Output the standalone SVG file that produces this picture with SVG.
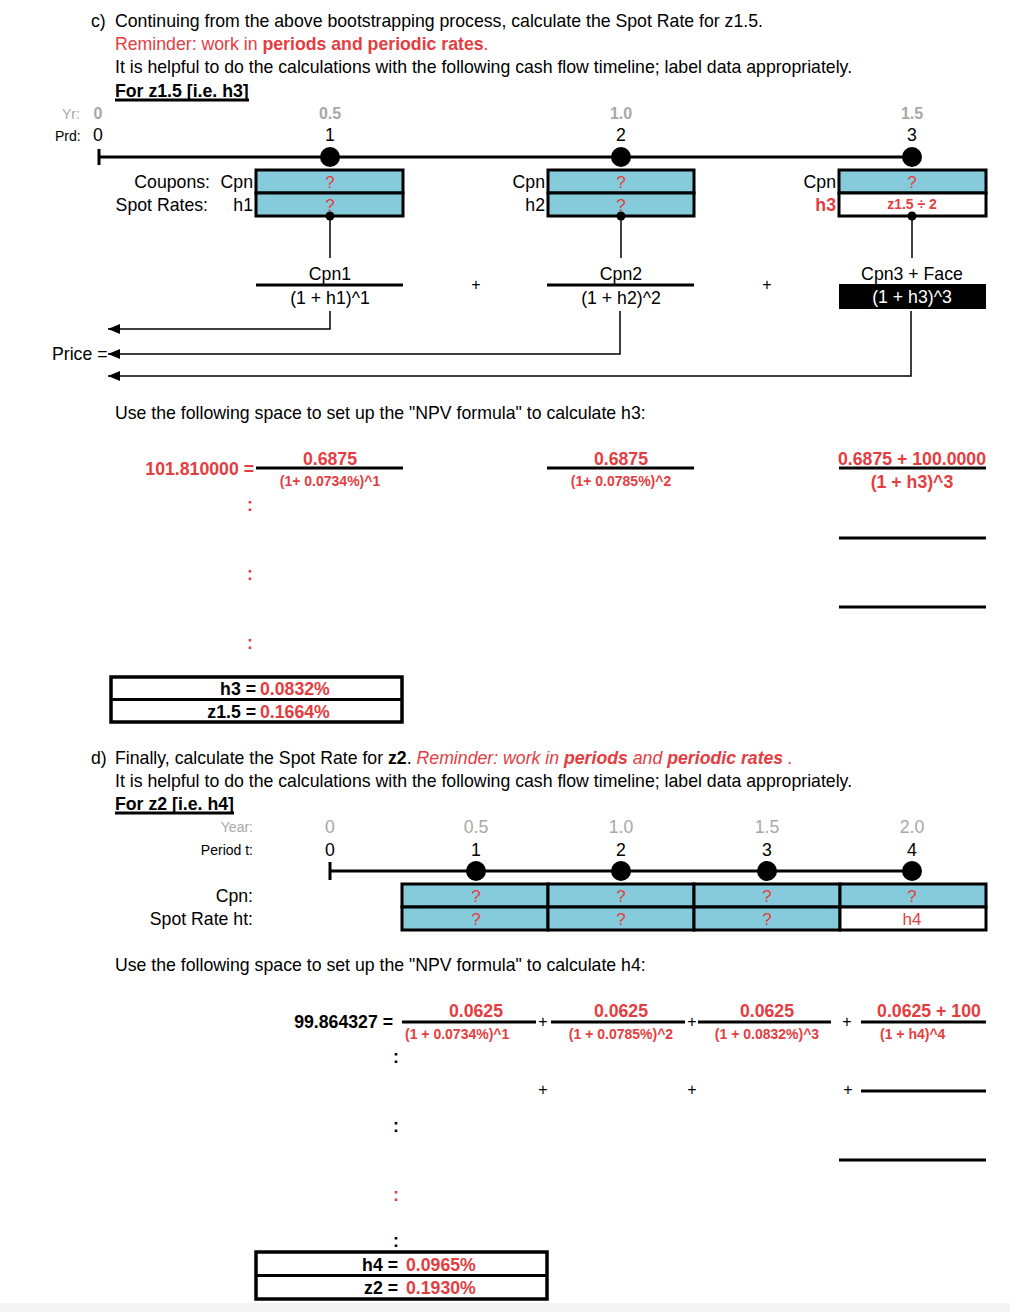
<svg xmlns="http://www.w3.org/2000/svg" width="1010" height="1312" viewBox="0 0 1010 1312">
<style>
text{font-family:"Liberation Sans",Arial,sans-serif;fill:#000}
.t{font-size:17.7px}
.r{fill:#E53D3F}
.b{font-weight:bold}
.g{fill:#A8A8A8}
.m{text-anchor:middle}
.e{text-anchor:end}
.s{font-size:14px}
.p{font-size:16px}
.xs{font-size:14px}
.q{font-size:17px;fill:#E53D3F;text-anchor:middle}
.cell{fill:#86CBDC;stroke:#000;stroke-width:3}
.wcell{fill:#fff;stroke:#000;stroke-width:3}
.bar{stroke:#000;stroke-width:3}
.thin{stroke:#000;stroke-width:1.5;fill:none}
</style>
<defs>
<marker id="arr" markerWidth="12" markerHeight="10" refX="12" refY="5" orient="auto" markerUnits="userSpaceOnUse"><path d="M0,0 L12,5 L0,10 z" fill="#000"/></marker>
</defs>
<rect width="1010" height="1312" fill="#fff"/>
<rect y="1303" width="1010" height="9" fill="#f5f5f5"/>

<g id="header-c">
<text class="t" x="91" y="27">c)</text>
<text class="t" x="115" y="27">Continuing from the above bootstrapping process, calculate the Spot Rate for z1.5.</text>
<text class="t r" x="115" y="50">Reminder: work in <tspan class="b">periods and periodic rates</tspan>.</text>
<text class="t" x="115" y="73">It is helpful to do the calculations with the following cash flow timeline; label data appropriately.</text>
<text class="t b" x="115" y="97">For z1.5 [i.e. h3]</text>
<line x1="115" y1="100" x2="249" y2="100" class="bar" stroke-width="2"/>
</g>

<g id="timeline-c">
<text class="s g" x="62" y="119">Yr:</text>
<text class="p g b m" x="98" y="119">0</text>
<text class="p g b m" x="330" y="119">0.5</text>
<text class="p g b m" x="621" y="119">1.0</text>
<text class="p g b m" x="912" y="119">1.5</text>
<text class="s" x="55" y="141">Prd:</text>
<text class="t m" x="98" y="141">0</text>
<text class="t m" x="330" y="141">1</text>
<text class="t m" x="621" y="141">2</text>
<text class="t m" x="912" y="141">3</text>
<line x1="99" y1="157" x2="912" y2="157" class="bar"/>
<line x1="99" y1="149" x2="99" y2="165" class="bar"/>
<circle cx="330" cy="157" r="10"/>
<circle cx="621" cy="157" r="10"/>
<circle cx="912" cy="157" r="10"/>
</g>

<g id="box-c1">
<text class="t e" x="210" y="188">Coupons:</text>
<text class="t e" x="253" y="188">Cpn</text>
<text class="t e" x="208" y="211">Spot Rates:</text>
<text class="t e" x="253" y="211">h1</text>
<rect x="256" y="170" width="147" height="23" class="cell"/>
<rect x="256" y="193" width="147" height="23" class="cell"/>
<text class="q" x="330" y="188">?</text>
<text class="q" x="330" y="211">?</text>
</g>
<g id="box-c2">
<text class="t e" x="545" y="188">Cpn</text>
<text class="t e" x="545" y="211">h2</text>
<rect x="548" y="170" width="146" height="23" class="cell"/>
<rect x="548" y="193" width="146" height="23" class="cell"/>
<text class="q" x="621" y="188">?</text>
<text class="q" x="621" y="211">?</text>
</g>
<g id="box-c3">
<text class="t e" x="836" y="188">Cpn</text>
<text class="t e r b" x="836" y="211">h3</text>
<rect x="839" y="170" width="147" height="23" class="cell"/>
<rect x="839" y="193" width="147" height="23" class="wcell"/>
<text class="q" x="912" y="188">?</text>
<text class="r b m xs" x="912" y="209">z1.5 ÷ 2</text>
</g>

<g id="frac-c1">
<text class="t m" x="330" y="280">Cpn1</text>
<line x1="256" y1="285" x2="403" y2="285" class="bar"/>
<text class="t m" x="330" y="304">(1 + h1)^1</text>
</g>
<text class="p m" x="476" y="290">+</text>
<g id="frac-c2">
<text class="t m" x="621" y="280">Cpn2</text>
<line x1="547" y1="285" x2="694" y2="285" class="bar"/>
<text class="t m" x="621" y="304">(1 + h2)^2</text>
</g>
<text class="p m" x="767" y="290">+</text>
<g id="frac-c3">
<text class="t m" x="912" y="280">Cpn3 + Face</text>
<rect x="839" y="284" width="147" height="25" fill="#000"/>
<text class="t m" x="912" y="303" style="fill:#fff">(1 + h3)^3</text>
</g>
<g id="price">
<text class="t" x="52" y="360">Price =</text>
</g>

<g id="connectors">
<circle cx="330" cy="216" r="4.5"/>
<circle cx="621" cy="216" r="4.5"/>
<circle cx="912" cy="216" r="4.5"/>
<line x1="330" y1="216" x2="330" y2="258" class="thin"/>
<line x1="621" y1="216" x2="621" y2="258" class="thin"/>
<line x1="912" y1="216" x2="912" y2="258" class="thin"/>
<path d="M330,311 V329 H108" class="thin" marker-end="url(#arr)"/>
<path d="M620,311 V354 H108" class="thin" marker-end="url(#arr)"/>
<path d="M911,311 V376 H108" class="thin" marker-end="url(#arr)"/>
</g>

<g id="npv-c">
<text class="t" x="115" y="419">Use the following space to set up the "NPV formula" to calculate h3:</text>
<text class="t r b e" x="254" y="475">101.810000 =</text>
<line x1="256" y1="468" x2="403" y2="468" class="bar"/>
<text class="t r b m" x="330" y="465">0.6875</text>
<text class="xs r b m" x="330" y="486">(1+ 0.0734%)^1</text>
<line x1="547" y1="468" x2="694" y2="468" class="bar"/>
<text class="t r b m" x="621" y="465">0.6875</text>
<text class="xs r b m" x="621" y="486">(1+ 0.0785%)^2</text>
<line x1="839" y1="468" x2="986" y2="468" class="bar"/>
<text class="t r b m" x="912" y="465">0.6875 + 100.0000</text>
<text class="t r b m" x="912" y="488">(1 + h3)^3</text>
<text class="t r b m" x="250" y="511">:</text>
<text class="t r b m" x="250" y="580">:</text>
<text class="t r b m" x="250" y="649">:</text>
<line x1="839" y1="538" x2="986" y2="538" class="bar"/>
<line x1="839" y1="607" x2="986" y2="607" class="bar"/>
</g>

<g id="result-c">
<rect x="111" y="677" width="291" height="45" fill="#fff" stroke="#000" stroke-width="3.5"/>
<line x1="111" y1="699.5" x2="402" y2="699.5" stroke="#000" stroke-width="3"/>
<text class="t b e" x="256" y="695">h3 =</text>
<text class="t b r" x="260" y="695">0.0832%</text>
<text class="t b e" x="256" y="718">z1.5 =</text>
<text class="t b r" x="260" y="718">0.1664%</text>
</g>

<g id="header-d">
<text class="t" x="91" y="764">d)</text>
<text class="t" x="115" y="764">Finally, calculate the Spot Rate for <tspan class="b">z2</tspan>. <tspan class="r" font-style="italic">Reminder: work in  <tspan class="b">periods</tspan>  and  <tspan class="b">periodic rates</tspan> .</tspan></text>
<text class="t" x="115" y="787">It is helpful to do the calculations with the following cash flow timeline; label data appropriately.</text>
<text class="t b" x="115" y="810">For z2 [i.e. h4]</text>
<line x1="115" y1="813" x2="234" y2="813" class="bar" stroke-width="2"/>
</g>

<g id="timeline-d">
<text class="s g e" x="253" y="832">Year:</text>
<text class="t g m" x="330" y="833">0</text>
<text class="t g m" x="476" y="833">0.5</text>
<text class="t g m" x="621" y="833">1.0</text>
<text class="t g m" x="767" y="833">1.5</text>
<text class="t g m" x="912" y="833">2.0</text>
<text class="s e" x="253" y="855">Period t:</text>
<text class="t m" x="330" y="856">0</text>
<text class="t m" x="476" y="856">1</text>
<text class="t m" x="621" y="856">2</text>
<text class="t m" x="767" y="856">3</text>
<text class="t m" x="912" y="856">4</text>
<line x1="330" y1="871" x2="912" y2="871" class="bar"/>
<line x1="330" y1="862" x2="330" y2="880" class="bar"/>
<circle cx="476" cy="871" r="10"/>
<circle cx="621" cy="871" r="10"/>
<circle cx="767" cy="871" r="10"/>
<circle cx="912" cy="871" r="10"/>
</g>

<g id="table-d">
<text class="t e" x="253" y="902">Cpn:</text>
<text class="t e" x="253" y="925">Spot Rate ht:</text>
<rect x="402" y="884" width="146" height="23" class="cell"/>
<rect x="548" y="884" width="146" height="23" class="cell"/>
<rect x="694" y="884" width="146" height="23" class="cell"/>
<rect x="840" y="884" width="146" height="23" class="cell"/>
<rect x="402" y="907" width="146" height="23" class="cell"/>
<rect x="548" y="907" width="146" height="23" class="cell"/>
<rect x="694" y="907" width="146" height="23" class="cell"/>
<rect x="840" y="907" width="146" height="23" class="wcell"/>
<text class="q" x="476" y="902">?</text>
<text class="q" x="621" y="902">?</text>
<text class="q" x="767" y="902">?</text>
<text class="q" x="912" y="902">?</text>
<text class="q" x="476" y="925">?</text>
<text class="q" x="621" y="925">?</text>
<text class="q" x="767" y="925">?</text>
<text class="q" x="912" y="925">h4</text>
</g>

<g id="npv-d">
<text class="t" x="115" y="971">Use the following space to set up the "NPV formula" to calculate h4:</text>
<text class="t b e" x="393" y="1028">99.864327 =</text>
<line x1="402" y1="1022" x2="536" y2="1022" class="bar"/>
<line x1="551" y1="1022" x2="685" y2="1022" class="bar"/>
<line x1="698" y1="1022" x2="831" y2="1022" class="bar"/>
<line x1="861" y1="1022" x2="986" y2="1022" class="bar"/>
<text class="t r b m" x="476" y="1017">0.0625</text>
<text class="t r b m" x="621" y="1017">0.0625</text>
<text class="t r b m" x="767" y="1017">0.0625</text>
<text class="t r b m" x="929" y="1017">0.0625 + 100</text>
<text class="xs r b" x="405" y="1039">(1 + 0.0734%)^1</text>
<text class="xs r b m" x="621" y="1039">(1 + 0.0785%)^2</text>
<text class="xs r b m" x="767" y="1039">(1 + 0.0832%)^3</text>
<text class="xs r b" x="880" y="1039">(1 + h4)^4</text>
<text class="p m" x="543" y="1027">+</text>
<text class="p m" x="692" y="1027">+</text>
<text class="p m" x="847" y="1027">+</text>
<text class="p m" x="543" y="1095">+</text>
<text class="p m" x="692" y="1095">+</text>
<text class="p m" x="848" y="1095">+</text>
<line x1="861" y1="1091" x2="986" y2="1091" class="bar"/>
<line x1="839" y1="1160" x2="986" y2="1160" class="bar"/>
<text class="t b m" x="396" y="1063">:</text>
<text class="t b m" x="396" y="1132">:</text>
<text class="t b r m" x="396" y="1201">:</text>
<text class="t b m" x="396" y="1247">:</text>
</g>

<g id="result-d">
<rect x="256" y="1252" width="291" height="47" fill="#fff" stroke="#000" stroke-width="3.5"/>
<line x1="256" y1="1275.5" x2="547" y2="1275.5" stroke="#000" stroke-width="3"/>
<text class="t b e" x="398" y="1271">h4 =</text>
<text class="t b r" x="406" y="1271">0.0965%</text>
<text class="t b e" x="398" y="1294">z2 =</text>
<text class="t b r" x="406" y="1294">0.1930%</text>
</g>
</svg>
